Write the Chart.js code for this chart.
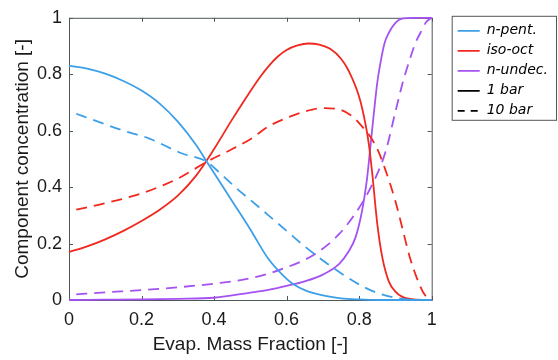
<!DOCTYPE html>
<html>
<head>
<meta charset="utf-8">
<script src="https://cdn.jsdelivr.net/npm/chart.js@4.4.0/dist/chart.umd.min.js"></script>
<style>
    html, body { margin: 0; padding: 0; background: #fff; }
    #wrap { width: 558px; height: 360px; }
</style>
</head>
<body>
<div id="wrap"><canvas id="chart" width="558" height="360"></canvas></div>
<script>
const names = ['n-pent.', 'iso-oct', 'n-undec.'];
const colors = ['#3d9fe8', '#f0281e', '#a452f2'];
const pressures = ['1 bar', '10 bar'];

const pentX1 = [0, 0.05, 0.1, 0.15, 0.2, 0.25, 0.3, 0.35, 0.38, 0.42, 0.45, 0.5, 0.55, 0.6, 0.62, 0.65, 0.7, 0.75, 0.8, 0.85, 1];
const pentY1 = [0.83, 0.82, 0.802, 0.776, 0.742, 0.696, 0.632, 0.55, 0.49, 0.41, 0.35, 0.25, 0.145, 0.075, 0.055, 0.035, 0.016, 0.006, 0.002, 0, 0];
const pentX10 = [0.02, 0.08, 0.15, 0.22, 0.31, 0.38, 0.42, 0.465, 0.5, 0.55, 0.6, 0.65, 0.7, 0.75, 0.8, 0.85, 0.9, 0.95, 1];
const pentY10 = [0.66, 0.632, 0.60, 0.573, 0.52, 0.49, 0.445, 0.392, 0.355, 0.30, 0.245, 0.19, 0.14, 0.095, 0.055, 0.025, 0.008, 0.001, 0];

const isoX1 = [0, 0.05, 0.1, 0.15, 0.2, 0.25, 0.3, 0.35, 0.4, 0.45, 0.5, 0.525, 0.55, 0.575, 0.6, 0.63, 0.66, 0.69, 0.72, 0.75, 0.77, 0.8, 0.818, 0.827, 0.836, 0.85, 0.864, 0.882, 0.9, 0.918, 0.95, 1];
const isoY1 = [0.17, 0.19, 0.215, 0.245, 0.28, 0.32, 0.37, 0.44, 0.535, 0.64, 0.74, 0.787, 0.828, 0.862, 0.886, 0.902, 0.909, 0.905, 0.89, 0.855, 0.815, 0.72, 0.62, 0.55, 0.45, 0.27, 0.15, 0.065, 0.03, 0.012, 0.002, 0];
const isoX10 = [0.02, 0.1, 0.2, 0.3, 0.38, 0.45, 0.5, 0.55, 0.6, 0.65, 0.7, 0.74, 0.78, 0.81, 0.83, 0.85, 0.87, 0.9, 0.92, 0.94, 0.96, 0.98, 1];
const isoY10 = [0.32, 0.343, 0.378, 0.43, 0.49, 0.535, 0.57, 0.615, 0.645, 0.668, 0.68, 0.677, 0.652, 0.612, 0.58, 0.535, 0.47, 0.35, 0.25, 0.15, 0.075, 0.02, 0];

const undX1 = [0, 0.1, 0.2, 0.3, 0.4, 0.5, 0.55, 0.6, 0.65, 0.7, 0.745, 0.77, 0.79, 0.808, 0.822, 0.83, 0.841, 0.85, 0.859, 0.87, 0.882, 0.9, 0.918, 0.95, 1];
const undY1 = [0, 0.001, 0.002, 0.004, 0.008, 0.026, 0.036, 0.05, 0.066, 0.09, 0.128, 0.17, 0.222, 0.316, 0.433, 0.53, 0.667, 0.77, 0.842, 0.91, 0.947, 0.982, 0.997, 1, 1];
const undX10 = [0.02, 0.1, 0.2, 0.3, 0.4, 0.5, 0.59, 0.68, 0.745, 0.8, 0.845, 0.873, 0.9, 0.92, 0.937, 0.955, 0.969, 0.985, 1];
const undY10 = [0.02, 0.027, 0.035, 0.045, 0.058, 0.077, 0.111, 0.164, 0.234, 0.327, 0.433, 0.526, 0.667, 0.77, 0.842, 0.91, 0.947, 0.985, 1];

const axisFont = 'Liberation Sans';
const dash10 = [11, 7];

function points(xs, ys) {
    return xs.map(function (x, i) {
        return { x: x, y: ys[i] };
    });
}

function line(label, xs, ys, color, dashed) {
    return {
        label: label,
        data: points(xs, ys),
        borderColor: color,
        backgroundColor: color,
        borderWidth: 1.8,
        borderDash: dashed ? dash10 : [],
        pointRadius: 0,
        cubicInterpolationMode: 'monotone',
        fill: false,
        clip: 3
    };
}

const datasets = [
    line(names[0] + ' ' + pressures[0], pentX1, pentY1, colors[0], false),
    line(names[0] + ' ' + pressures[1], pentX10, pentY10, colors[0], true),
    line(names[1] + ' ' + pressures[0], isoX1, isoY1, colors[1], false),
    line(names[1] + ' ' + pressures[1], isoX10, isoY10, colors[1], true),
    line(names[2] + ' ' + pressures[0], undX1, undY1, colors[2], false),
    line(names[2] + ' ' + pressures[1], undX10, undY10, colors[2], true)
];

function legendItems() {
    var items = names.map(function (n, i) {
        return { text: n, strokeStyle: colors[i], fillStyle: colors[i], lineWidth: 1.8, lineDash: [], pointStyle: 'line', hidden: false, fontColor: '#000' };
    });
    items.push({ text: pressures[0], strokeStyle: '#000', fillStyle: '#000', lineWidth: 1.8, lineDash: [], pointStyle: 'line', hidden: false, fontColor: '#000' });
    items.push({ text: pressures[1], strokeStyle: '#000', fillStyle: '#000', lineWidth: 1.8, lineDash: [7, 6], pointStyle: 'line', hidden: false, fontColor: '#000' });
    return items;
}

function tickText(v) {
    return String(Math.round(v * 10) / 10);
}

// box round the plot with inward ticks, and a frame round the legend
const frames = {
    id: 'frames',
    beforeDatasetsDraw: function (chart) {
        let ctx = chart.ctx;
        let a = chart.chartArea;
        let xs = chart.scales.x, ys = chart.scales.y;
        ctx.save();
        ctx.strokeStyle = '#4d5757';
        ctx.lineWidth = 1;
        ctx.strokeRect(a.left + 0.5, a.top + 0.5, a.right - a.left, a.bottom - a.top);
        ctx.beginPath();
        xs.ticks.forEach(function (t) {
            let px = Math.round(xs.getPixelForValue(t.value)) + 0.5;
            ctx.moveTo(px, a.bottom); ctx.lineTo(px, a.bottom - 4);
            ctx.moveTo(px, a.top); ctx.lineTo(px, a.top + 4);
        });
        ys.ticks.forEach(function (t) {
            let py = Math.round(ys.getPixelForValue(t.value)) + 0.5;
            ctx.moveTo(a.left, py); ctx.lineTo(a.left + 4, py);
            ctx.moveTo(a.right, py); ctx.lineTo(a.right - 4, py);
        });
        ctx.stroke();
        ctx.restore();
    },
    afterDraw: function (chart) {
        let ctx = chart.ctx;
        let lg = chart.legend;
        let boxes = lg.legendHitBoxes;
        let last = boxes[boxes.length - 1];
        ctx.save();
        ctx.strokeStyle = '#555';
        ctx.lineWidth = 1;
        let top = boxes[0].top - 8;
        let bottom = last.top + last.height + 2;
        ctx.strokeRect(lg.left + 0.5, top + 0.5, chart.width - lg.left - 2, bottom - top);
        ctx.restore();
    }
};

let ctx = document.getElementById('chart').getContext('2d');
let chart = new Chart(ctx, {
    type: 'line',
    data: { datasets: datasets },
    options: {
        responsive: false,
        animation: false,
        layout: { padding: { top: 13.4, right: 0, left: 0, bottom: 0 } },
        plugins: {
            legend: {
                position: 'right',
                align: 'start',
                fullSize: false,
                maxWidth: 120,
                labels: {
                    usePointStyle: true,
                    pointStyle: 'line',
                    pointStyleWidth: 22,
                    padding: 6,
                    color: '#000',
                    font: { family: 'DejaVu Sans', size: 14, style: 'italic' },
                    generateLabels: legendItems
                }
            },
            tooltip: { enabled: false }
        },
        scales: {
            x: {
                type: 'linear',
                position: 'bottom',
                min: 0,
                max: 1,
                grid: { display: false, drawTicks: false },
                border: { display: false },
                ticks: { stepSize: 0.2, padding: 9, color: '#1a1a1a', font: { family: axisFont, size: 18 }, callback: tickText },
                title: { display: true, text: 'Evap. Mass Fraction [-]', color: '#1a1a1a', padding: { top: 0, bottom: 4 }, font: { family: axisFont, size: 19 } },
                afterFit: function (s) { s.height = 60; }
            },
            y: {
                type: 'linear',
                position: 'left',
                min: 0,
                max: 1,
                grid: { display: false, drawTicks: false },
                border: { display: false },
                ticks: { stepSize: 0.2, padding: 7, color: '#1a1a1a', font: { family: axisFont, size: 18 }, callback: tickText },
                title: { display: true, text: 'Component concentration [-]', color: '#1a1a1a', padding: { top: 11, bottom: 0 }, font: { family: axisFont, size: 19 } },
                afterFit: function (s) { s.width = 69; }
            },
            yRight: {
                type: 'linear',
                position: 'right',
                min: 0,
                max: 1,
                grid: { display: false, drawTicks: false },
                border: { display: false },
                ticks: { display: false },
                afterFit: function (s) { s.width = 20; }
            }
        }
    },
    plugins: [frames]
});
</script>
</body>
</html>
